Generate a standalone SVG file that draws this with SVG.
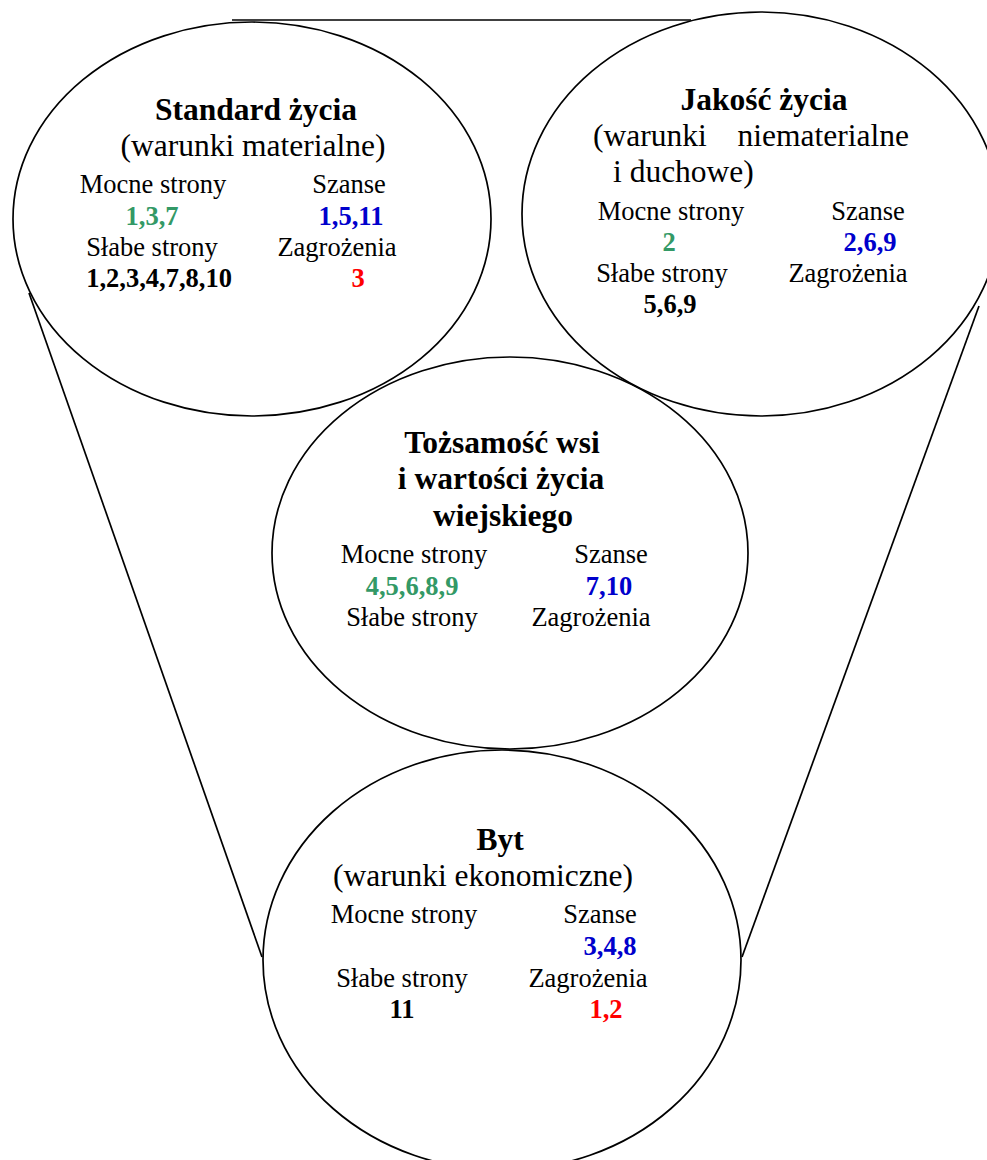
<svg xmlns="http://www.w3.org/2000/svg" width="987" height="1160" viewBox="0 0 987 1160">
<style>
.bg{fill:#ffffff}
.shape{fill:none;stroke:#000;stroke-width:1.7}
.conn{fill:none;stroke:#000;stroke-width:1.7}
text{font-family:"Liberation Serif","Times New Roman",serif;fill:#000}
.title{font-size:31.5px;font-weight:bold;text-anchor:middle}
.sub{font-size:31.5px}
.lbl{font-size:26.5px;text-anchor:middle}
.num{font-size:26.5px;font-weight:bold;text-anchor:middle}
.g{fill:#339966}
.b{fill:#0000cc}
.r{fill:#ff0000}
</style>
<rect class="bg" x="0" y="0" width="987" height="1160"/>
<g id="connectors">
<line class="conn" x1="232" y1="20" x2="691" y2="20"/>
<line class="conn" x1="29" y1="293" x2="262" y2="957"/>
<line class="conn" x1="979" y1="306" x2="742" y2="957"/>
</g>
<g id="standard-zycia">
<ellipse class="shape" cx="252" cy="219" rx="239" ry="197"/>
<text class="title" x="256" y="120">Standard życia</text>
<text class="sub" x="253" y="156" text-anchor="middle">(warunki materialne)</text>
<text class="lbl" x="153" y="193">Mocne strony</text>
<text class="lbl" x="349" y="193">Szanse</text>
<text class="num g" x="152" y="225">1,3,7</text>
<text class="num b" x="351" y="225">1,5,11</text>
<text class="lbl" x="152" y="256">Słabe strony</text>
<text class="lbl" x="337" y="256">Zagrożenia</text>
<text class="num" x="159" y="287">1,2,3,4,7,8,10</text>
<text class="num r" x="358" y="287">3</text>
</g>
<g id="jakosc-zycia">
<ellipse class="shape" cx="761" cy="214" rx="239" ry="202"/>
<text class="title" x="764" y="110">Jakość życia</text>
<text class="sub" x="593" y="146">(warunki</text>
<text class="sub" x="909" y="146" text-anchor="end">niematerialne</text>
<text class="sub" x="613" y="182">i duchowe)</text>
<text class="lbl" x="671" y="220">Mocne strony</text>
<text class="lbl" x="868" y="220">Szanse</text>
<text class="num g" x="669" y="251">2</text>
<text class="num b" x="870" y="251">2,6,9</text>
<text class="lbl" x="662" y="282">Słabe strony</text>
<text class="lbl" x="848" y="282">Zagrożenia</text>
<text class="num" x="670" y="313">5,6,9</text>
</g>
<g id="tozsamosc-wsi">
<ellipse class="shape" cx="510" cy="553" rx="238" ry="196"/>
<text class="title" x="502" y="453">Tożsamość wsi</text>
<text class="title" x="501" y="489">i wartości życia</text>
<text class="title" x="503" y="526">wiejskiego</text>
<text class="lbl" x="414" y="563">Mocne strony</text>
<text class="lbl" x="611" y="563">Szanse</text>
<text class="num g" x="412" y="595">4,5,6,8,9</text>
<text class="num b" x="609" y="595">7,10</text>
<text class="lbl" x="412" y="626">Słabe strony</text>
<text class="lbl" x="591" y="626">Zagrożenia</text>
</g>
<g id="byt">
<ellipse class="shape" cx="502" cy="960" rx="239" ry="210"/>
<text class="title" x="500" y="850">Byt</text>
<text class="sub" x="483" y="886" text-anchor="middle">(warunki ekonomiczne)</text>
<text class="lbl" x="404" y="923">Mocne strony</text>
<text class="lbl" x="600" y="923">Szanse</text>
<text class="num b" x="610" y="955">3,4,8</text>
<text class="lbl" x="402" y="987">Słabe strony</text>
<text class="lbl" x="588" y="987">Zagrożenia</text>
<text class="num" x="402" y="1018">11</text>
<text class="num r" x="606" y="1018">1,2</text>
</g>
</svg>
